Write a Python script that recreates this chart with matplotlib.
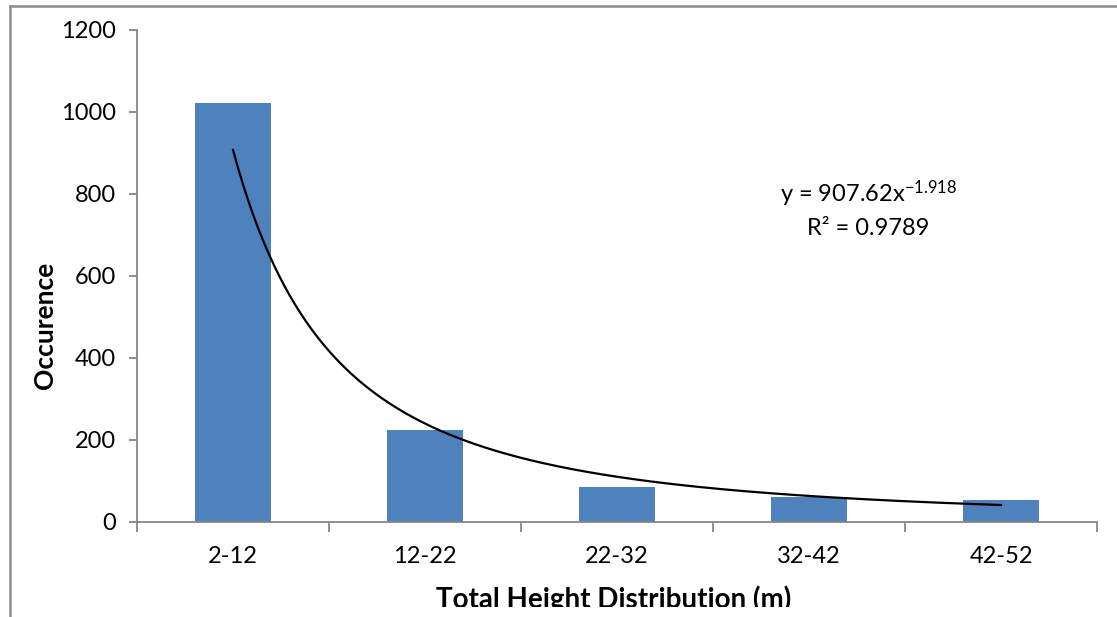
import numpy as np
import matplotlib
matplotlib.use("Agg")
import matplotlib.pyplot as plt
from matplotlib.lines import Line2D
from matplotlib.patches import Rectangle

# Occurrence counts per height class
categories = ["2-12", "12-22", "22-32", "32-42", "42-52"]
occurrence = [1021, 224, 86, 61, 53]

# Power-law trend fitted to the counts
fit_a = 907.62
fit_b = -1.918
fit_r2 = 0.9789

plt.rcParams["font.family"] = ["Lato", "DejaVu Sans"]
plt.rcParams["axes.unicode_minus"] = False
plt.rcParams["mathtext.fontset"] = "custom"
plt.rcParams["mathtext.rm"] = "Lato"
plt.rcParams["mathtext.it"] = "Lato"
plt.rcParams["mathtext.default"] = "regular"

FS = 17
W, H = 1117, 617

fig = plt.figure(figsize=(W / 100, H / 100), dpi=100)
ax = fig.add_axes([137 / W, 1 - 522 / H, (1097 - 137) / W, (522 - 30) / H])

x = np.arange(1, len(categories) + 1)
ax.bar(x, occurrence, width=0.4, color="#4F81BD", zorder=2)

# trend line across category positions 1..5
xt = np.linspace(1, len(categories), 300)
ax.plot(xt, fit_a * xt ** fit_b, color="black", lw=1.6, zorder=3)

ax.set_xlim(0.5, len(categories) + 0.5)
ax.set_ylim(0, 1200)
ax.set_yticks(np.arange(0, 1201, 200))
ax.set_xticks(x)
ax.set_xticklabels(categories)
ax.set_xticks(np.arange(0.5, len(categories) + 1), minor=True)

for s in ["top", "right"]:
    ax.spines[s].set_visible(False)
for s in ["left", "bottom"]:
    ax.spines[s].set_color("#868686")
    ax.spines[s].set_linewidth(1.3)

ax.tick_params(axis="x", which="major", length=0, pad=17, labelsize=FS)
ax.tick_params(axis="x", which="minor", length=7, color="#868686", width=1.3)
ax.tick_params(axis="y", length=6, color="#868686", width=1.3, labelsize=FS, pad=9)

ax.set_ylabel("Occurence", fontsize=19, fontweight="bold")
ax.yaxis.set_label_coords(-0.083, 0.40)

ax.text(4.31, 800, f"y = {fit_a}x$^{{{fit_b}}}$", fontsize=FS, ha="center", va="center")
ax.text(4.31, 715, f"R\u00b2 = {fit_r2}", fontsize=FS, ha="center", va="center")

# x-axis title, its lower part hidden under the strip at the bottom edge
fig.text(614 / W, 1 - 608 / H, "Total Height Distribution (m)", fontsize=20,
         fontweight="bold", ha="center", va="baseline", zorder=1)
fig.add_artist(Rectangle((12 / W, 0), 1, (H - 607) / H, transform=fig.transFigure,
                         facecolor="white", edgecolor="none", zorder=5))

# outer chart frame
fig.add_artist(Line2D([10 / W, 1.01], [1 - 6 / H, 1 - 6 / H], transform=fig.transFigure,
                      color="#8c8c8c", lw=1.8, zorder=6))
fig.add_artist(Line2D([10 / W, 10 / W], [1 - 6 / H, -0.01], transform=fig.transFigure,
                      color="#8c8c8c", lw=1.8, zorder=6))

fig.savefig("out.png", dpi=100)
